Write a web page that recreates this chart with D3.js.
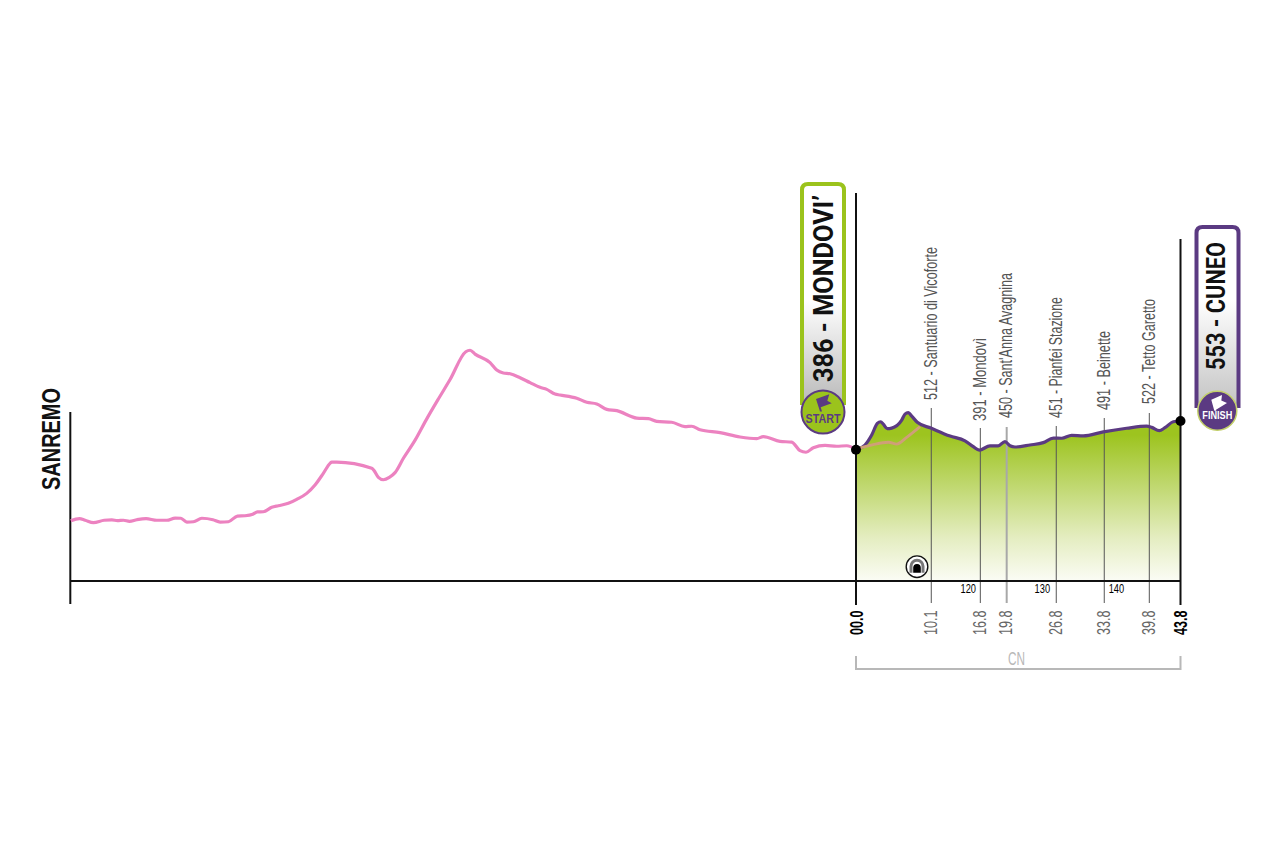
<!DOCTYPE html>
<html><head><meta charset="utf-8">
<script src="https://cdn.jsdelivr.net/npm/d3@7"></script>
<style>html,body{margin:0;background:#fff}svg{display:block}</style></head>
<body><svg id="c" width="1280" height="853"></svg>
<script>
const previousKm=[-105.98,-104.82,-104.05,-102.93,-101.48,-100.45,-99.69,-98.88,-98.07,-97.07,-95.82,-94.37,-93.02,-91.9,-91.13,-90.32,-89.43,-88.3,-86.8,-85.83,-84.71,-83.5,-82.46,-81.42,-80.8,-80,-78.86,-77.97,-76.62,-75.49,-74.14,-73.02,-71.9,-70.99,-70.76,-70.09,-65.36,-65.05,-64.47,-63.8,-62.99,-62.22,-61.09,-59.51,-58.03,-56.37,-54.79,-52.67,-52.09,-51.42,-49.39,-48.49,-47.6,-46.69,-45.34,-43.99,-42.65,-41.74,-40.62,-39.95,-37.69,-36.34,-34.99,-33.64,-32.29,-29.59,-28.02,-26.9,-24.87,-23.08,-22.17,-21.05,-18.35,-15.65,-13.4,-12.51,-10.26,-8.68,-7.56,-6.75,-5.76,-4.18,-2.6,-1.25,0];
const previousElev=[-5,7,-2,-15,-2,0,-4,-2,-8,1,7,-2,-2,10,9,-12,-10,9,1,-12,-10,21,23,31,44,45,69,78,91,113,146,192,256,311,318,318,284,271,234,221,234,260,339,439,549,665,772,925,933,912,865,824,808,804,782,755,729,718,692,687,669,647,638,608,601,560,557,542,537,513,515,496,480,456,447,458,432,428,381,372,397,410,405,408,388];
const overlapKm=[0,1.21,2.33,4.37,5.49,6.84,8.64];
const overlapElev=[388,403,414,427,417,454,513];
const stageKm=[0,1.21,2.12,2.88,3.33,3.68,4.22,4.82,6.17,6.61,7.06,7.52,8.27,10.1,12.69,14.71,15.83,16.64,18.08,19.2,20.11,20.78,21.46,23.48,25.28,26.63,27.76,29.11,30.68,33.38,36.53,39.24,39.91,40.93,41.7,42.82,43.8];
const stageElev=[386,412,467,531,540,527,502,505,549,582,590,571,537,505,461,435,403,384,407,407,431,408,401,412,425,450,449,465,462,484,504,516,509,491,507,540,544];
const pointKm=[10.16,16.78,20.34,27.03,33.51,39.59];
const pointNames=["512 - Santuario di Vicoforte","391 - Mondovì","450 - Sant'Anna Avagnina","451 - Pianfei Stazione","491 - Beinette","522 - Tetto Garetto"];
const pointDist=["10.1","16.8","19.8","26.8","33.8","39.8"];
const pointLabelLen=[153,83,145,121,79,105];
const raceKm=[120,130,140];
const raceOffset=104.85;

const svg=d3.select("#c");
const x=d3.scaleLinear().domain([0,43.8]).range([856,1180.5]);
const y=d3.scaleLinear().domain([-336,1798]).range([581,193]);
const NARROW="'Liberation Sans Narrow','Liberation Sans',sans-serif";
const PURPLE="#5b3a82",GREEN="#9bc31c",PINK="#ec82c0";
const zip=(a,b)=>a.map((v,i)=>[v,b[i]]);
const curve=d3.curveMonotoneX;
const line=d3.line().x(d=>x(d[0])).y(d=>y(d[1])).curve(curve);
const area=d3.area().x(d=>x(d[0])).y0(y(-336)).y1(d=>y(d[1])).curve(curve);
const defs=svg.append("defs");
function grad(id,gx,stops){const g=defs.append("linearGradient").attr("id",id).attr("gradientUnits","userSpaceOnUse").attr("x1",0).attr("x2",0).attr("y1",gx[0]).attr("y2",gx[1]);
 stops.forEach(s=>g.append("stop").attr("offset",s[0]).attr("stop-color",s[1]));}
grad("fillG",[435,581],[[0,"#9dc41f"],[.35,"#c0d870"],[.7,"#e4edc0"],[1,"#fbfcf5"]]);
grad("pillA",[300,405],[[0,"#ffffff"],[1,"#b9b9b9"]]);
grad("pillB",[300,405],[[0,"#ffffff"],[1,"#c4c4c4"]]);

svg.append("path").datum(zip(stageKm,stageElev)).attr("d",area).attr("fill","url(#fillG)");

function pill(xl,xr,top,bottom,col,gr){
 const r=6;
 svg.append("path").attr("d",`M${xl},${bottom}V${top+r}Q${xl},${top} ${xl+r},${top}H${xr-r}Q${xr},${top} ${xr},${top+r}V${bottom}`)
 .attr("fill",`url(#${gr})`).attr("stroke",col).attr("stroke-width",4);
}
pill(802,844,184,405,GREEN,"pillA");
pill(1196.5,1238.5,227,408,PURPLE,"pillB");
function vtext(cx,bottom,str,size,len,o){
 return svg.append("text").attr("transform",`translate(${cx},${bottom}) rotate(-90)`).attr("dominant-baseline","central")
  .attr("font-family",o.font||NARROW).attr("font-weight",o.weight||"normal").attr("font-size",size).attr("fill",o.fill||"#000")
  .attr("textLength",len).attr("lengthAdjust","spacingAndGlyphs").text(str);
}
vtext(823,382,"386 - MONDOVI’",28,187,{font:"Roboto,sans-serif",weight:"bold",fill:"#111"});
vtext(1216,370,"553 - CUNEO",26,128,{font:"Roboto,sans-serif",weight:"bold",fill:"#111"});
vtext(51,490,"SANREMO",25,102,{weight:"bold",fill:"#111"});

const tickTop=[408,428,427,426,418,413];
svg.selectAll(".t").data(pointKm).join("line").attr("x1",d=>x(d)).attr("x2",d=>x(d))
 .attr("y1",(d,i)=>tickTop[i]).attr("y2",603)
 .attr("stroke",(d,i)=>i==2?"#a8a8a8":"#555").attr("stroke-width",(d,i)=>i==2?2:1);

const ax=(x1,y1,x2,y2)=>svg.append("line").attr("x1",x1).attr("y1",y1).attr("x2",x2).attr("y2",y2).attr("stroke","#111").attr("stroke-width",2);
ax(x(-106.05),581,x(43.8),581);
ax(x(-106.05),412,x(-106.05),604);
ax(x(0),193,x(0),605);
ax(x(43.8),239,x(43.8),605);

svg.append("path").datum(zip(previousKm,previousElev)).attr("d",line).attr("fill","none").attr("stroke",PINK).attr("stroke-width",3.2);
svg.append("path").datum(zip(stageKm,stageElev)).attr("d",line).attr("fill","none").attr("stroke",PURPLE).attr("stroke-width",3.2);
svg.append("path").datum(zip(overlapKm,overlapElev)).attr("d",line).attr("fill","none").attr("stroke","#cf9f78").attr("stroke-width",2.8);

[[0,386],[43.8,544]].forEach(d=>svg.append("circle").attr("cx",x(d[0])).attr("cy",y(d[1])).attr("r",5).attr("fill","#000"));

const nameBottom=[400,421,418,418,410,404];
pointNames.forEach((n,i)=>vtext(x(pointKm[i])-0.5,nameBottom[i],n,17.5,pointLabelLen[i],{fill:"#555"}));
const dist=(cx,s,o)=>vtext(cx,635,s,18,24.5,o);
pointDist.forEach((s,i)=>dist(x(pointKm[i])-0.5,s,{fill:"#666"}));
dist(x(0)+1,"00.0",{weight:"bold",fill:"#000"});
dist(x(43.8),"43.8",{weight:"bold",fill:"#000"});
svg.selectAll(".r").data(raceKm).join("text").attr("x",d=>x(d-raceOffset)).attr("y",593).attr("text-anchor","middle")
 .attr("font-family",NARROW).attr("font-size",13).attr("textLength",15.5).attr("lengthAdjust","spacingAndGlyphs").attr("fill","#000").text(d=>d);
svg.append("path").attr("d",`M${x(0)},656V669H${x(43.8)}V656`).attr("fill","none").attr("stroke","#b8b8b8").attr("stroke-width",2);
svg.append("text").attr("x",1016.5).attr("y",665).attr("text-anchor","middle").attr("font-family",NARROW).attr("font-size",19).attr("textLength",17).attr("lengthAdjust","spacingAndGlyphs").attr("fill","#b8b8b8").text("CN");

const s=svg.append("g").attr("transform","translate(823,412)");
s.append("circle").attr("r",21.5).attr("fill",GREEN).attr("stroke",PURPLE).attr("stroke-width",2);
s.append("path").attr("d","M-7,-13L6.3,-17.7L4.3,-11.3L8.7,-8.7L-2.3,-4.7L-1,-0.5L-3,-0.5Z").attr("fill",PURPLE);
s.append("text").attr("y",10.7).attr("text-anchor","middle").attr("font-family","'Liberation Sans',sans-serif").attr("font-weight","bold").attr("font-size",12.5).attr("textLength",35).attr("lengthAdjust","spacingAndGlyphs").attr("fill",PURPLE).text("START");
const f=svg.append("g").attr("transform","translate(1217.3,410.7)");
f.append("circle").attr("r",19.5).attr("fill",PURPLE).attr("stroke","#c3d06a").attr("stroke-width",1.5);
f.append("path").attr("d","M-6,-11L4.7,-15.7L4,-10.3L9.7,-7.7L-1.3,-1L-1,0L-3,0Z").attr("fill","#fff");
f.append("text").attr("y",8.6).attr("text-anchor","middle").attr("font-family","'Liberation Sans',sans-serif").attr("font-weight","bold").attr("font-size",10).attr("textLength",30).attr("lengthAdjust","spacingAndGlyphs").attr("fill","#fff").text("FINISH");
const t=svg.append("g").attr("transform","translate(917,566.7)");
t.append("circle").attr("r",10.8).attr("fill","#fff").attr("stroke","#111").attr("stroke-width",1.4);
t.append("path").attr("d","M-7.5,6V-0.5A7.5,7.5 0 0 1 7.5,-0.5V6H4.5V-0.5A4.5,4.5 0 0 0 -4.5,-0.5V6Z").attr("fill","#777");
t.append("path").attr("d","M-3.8,6V1A3.8,3.8 0 0 1 3.8,1V6Z").attr("fill","#000");
</script></body></html>
